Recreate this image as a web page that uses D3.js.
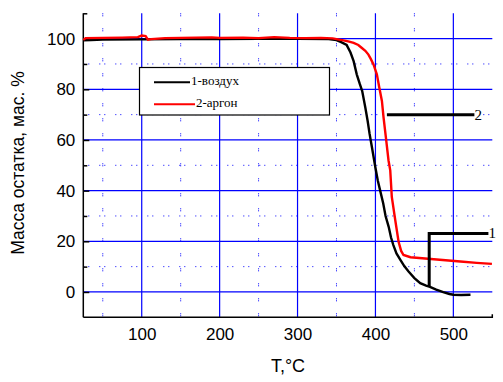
<!DOCTYPE html>
<html><head><meta charset="utf-8">
<script src="https://cdn.jsdelivr.net/npm/d3@7"></script>
<style>body{margin:0;background:#fff}svg{display:block}</style>
</head><body>
<script>
// ---- data ----
const airSeries = [[25,99.3],[35,99.4],[50,99.6],[100,99.7],[150,99.8],[200,99.8],[250,99.9],[300,99.9],[340,99.8],[350,99.4],[356,98.6],[363,97.5],[368,94.5],[372,91.1],[376,85.9],[380,82],[383,79.3],[387,72.8],[390,67.5],[392.5,62.4],[395.5,57.1],[399.8,49.3],[403,44],[406,40.1],[410,34.9],[413,30],[417,25.7],[420,21.5],[423,18.5],[427,15.2],[432,12.7],[437,10.2],[442.5,8.1],[450,5.5],[457.5,3.5],[465,2.5],[470,2.0],[478,0.9],[487,-0.1],[495,-0.8],[500,-1.1],[510,-1.2],[522,-1.1]];
const argonSeries = [[25,99.5],[28,100.2],[50,100.3],[75,100.4],[95,100.6],[100,101.2],[105,101.0],[108,99.6],[112,99.8],[130,100.2],[150,100.3],[170,100.4],[190,100.5],[200,100.3],[230,100.4],[250,100.2],[270,100.6],[290,100.3],[310,100.2],[330,100.3],[345,100.1],[359,99.3],[365,98.9],[372,98.3],[378,97.5],[382.6,96.3],[387,95.2],[391,93.7],[394,92],[397.5,89.8],[401.8,85.9],[405,80.6],[408.3,75.4],[410.4,68.9],[413.4,61],[416.8,51.9],[419,48],[421,37.5],[425.4,28.4],[429.7,19.8],[433,16.2],[436,14.6],[445,13.7],[460,13.3],[475,12.9],[490,12.5],[509,12],[530,11.5],[549.5,11.1]];
const legendLabels = ["1-воздух","2-аргон"];
const xTicks = [100,200,300,400,500];
const xMinor = [50,150,250,350,450];
const yTicks = [0,20,40,60,80,100];
const yMinor = [10,30,50,70,90,110];
const annot2 = [[414.7,70],[527,70]];
const annot1 = [[469,2.2],[469,23.1],[545,23.1]];
const annotLabels = [{t:"2",x:527,y:70},{t:"1",x:545,y:23.1}];
const xTitle = "T,°C";
const yTitle = "Масса остатка, мас. %";

// ---- layout ----
const W=503,H=382;
const svg=d3.select("body").append("svg").attr("width",W).attr("height",H);
const x=d3.scaleLinear().domain([25,550]).range([83.3,492.3]);
const y=d3.scaleLinear().domain([-10,110]).range([317.3,13.3]);
const blue="#0000ff";

// minor dotted grid
svg.append("g").selectAll("line").data(xMinor).join("line")
 .attr("x1",d=>x(d)).attr("x2",d=>x(d)).attr("y1",y(110)).attr("y2",y(-10))
 .attr("stroke",blue).attr("stroke-width",1).attr("stroke-dasharray","1,1,1,12");
svg.append("g").selectAll("line").data(yMinor.filter(d=>d<110)).join("line")
 .attr("x1",x(25)).attr("x2",x(550)).attr("y1",d=>y(d)).attr("y2",d=>y(d))
 .attr("stroke",blue).attr("stroke-width",1).attr("stroke-dasharray","1,4,1,10");
// major grid
svg.append("g").selectAll("line").data(xTicks).join("line")
 .attr("x1",d=>x(d)).attr("x2",d=>x(d)).attr("y1",y(110)).attr("y2",y(-10))
 .attr("stroke",blue).attr("stroke-width",1.2);
svg.append("g").selectAll("line").data(yTicks).join("line")
 .attr("x1",x(25)).attr("x2",x(550)).attr("y1",d=>y(d)).attr("y2",d=>y(d))
 .attr("stroke",blue).attr("stroke-width",1.2);

// axes
const yAxis=d3.axisLeft(y).tickValues(yTicks).tickSize(-6).tickPadding(8).tickFormat(d3.format("d"));
const gy=svg.append("g").attr("transform",`translate(${x(25)},0)`).call(yAxis);
gy.select(".domain").attr("stroke","#000").attr("stroke-width",1.5).attr("d",`M0,${y(110)}V${y(-10)}`);
gy.selectAll(".tick line").attr("stroke","#000").attr("stroke-width",1.5);
gy.selectAll("text").attr("font-family","Liberation Sans, Arial, sans-serif").attr("font-size",17).attr("fill","#000");
const yMin=d3.axisLeft(y).tickValues(yMinor).tickSize(-4).tickFormat("");
const gym=svg.append("g").attr("transform",`translate(${x(25)},0)`).call(yMin);
gym.select(".domain").remove();
gym.selectAll(".tick line").attr("stroke","#000").attr("stroke-width",1.5);

const xAxis=d3.axisBottom(x).tickValues(xTicks).tickSize(0).tickPadding(11).tickFormat(d3.format("d"));
const gx=svg.append("g").attr("transform",`translate(0,${y(-10)})`).call(xAxis);
gx.select(".domain").attr("stroke","#000").attr("stroke-width",1.5).attr("d",`M${x(25)},0H${x(550)}V-3`);
gx.selectAll("text").attr("font-family","Liberation Sans, Arial, sans-serif").attr("font-size",17).attr("fill","#000");

// curves
const line=d3.line().x(d=>x(d[0])).y(d=>y(d[1]));
svg.append("path").datum(airSeries).attr("d",line).attr("fill","none").attr("stroke","#000").attr("stroke-width",2.4);
svg.append("path").datum(argonSeries).attr("d",line).attr("fill","none").attr("stroke","#ff0000").attr("stroke-width",2.4);

// annotations
svg.append("path").datum(annot2).attr("d",line).attr("fill","none").attr("stroke","#000").attr("stroke-width",3);
svg.append("path").datum(annot1).attr("d",line).attr("fill","none").attr("stroke","#000").attr("stroke-width",3);
svg.append("g").selectAll("text").data(annotLabels).join("text")
 .attr("x",d=>x(d.x)).attr("y",d=>y(d.y)+5).text(d=>d.t)
 .attr("font-family","Liberation Serif, Times New Roman, serif").attr("font-size",15).attr("fill","#000");

// legend
const lg=svg.append("g");
lg.append("rect").attr("x",139.5).attr("y",67.5).attr("width",190).attr("height",47.5)
 .attr("fill","#fff").attr("stroke","#000").attr("stroke-width",1.2);
const legColors=["#000","#ff0000"];
const legLen=[36,41];
legendLabels.forEach((t,i)=>{
  const yy=82.3+i*22;
  lg.append("line").attr("x1",154).attr("x2",154+legLen[i]).attr("y1",yy).attr("y2",yy)
    .attr("stroke",legColors[i]).attr("stroke-width",2);
  lg.append("text").attr("x",154+legLen[i]+1).attr("y",yy+3).text(t)
    .attr("font-family","Liberation Serif, Times New Roman, serif").attr("font-size",13).attr("fill","#000");
});

// titles
svg.append("text").attr("x",288).attr("y",372).attr("text-anchor","middle").text(xTitle)
 .attr("font-family","Liberation Sans, Arial, sans-serif").attr("font-size",18).attr("fill","#000");
svg.append("text").attr("transform","translate(24,163) rotate(-90)").attr("text-anchor","middle").text(yTitle)
 .attr("font-family","Liberation Sans, Arial, sans-serif").attr("font-size",17.5).attr("fill","#000");
</script>
</body></html>
